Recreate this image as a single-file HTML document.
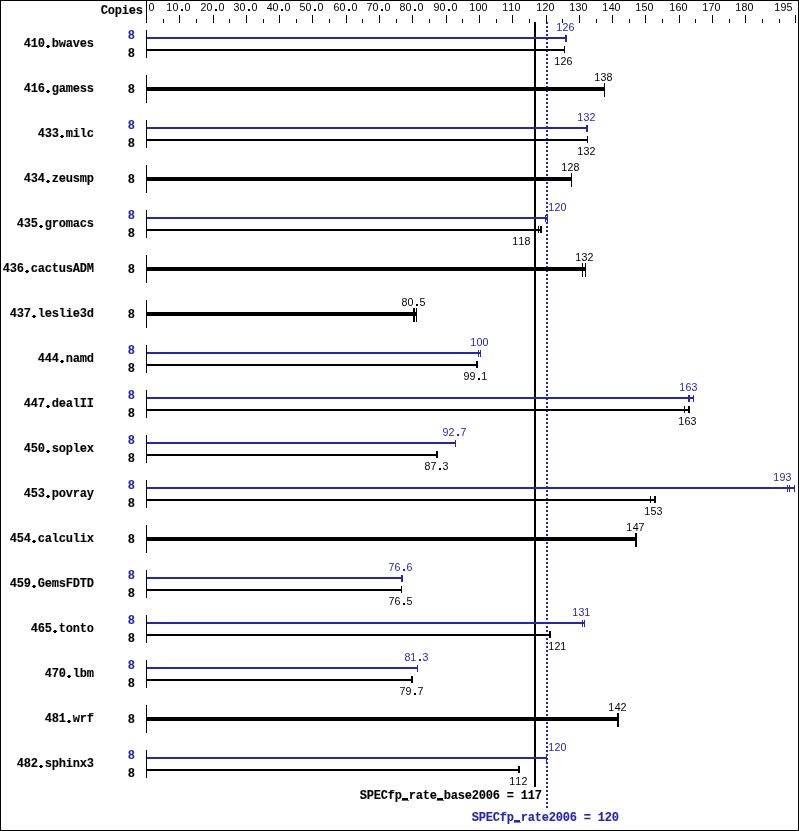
<!DOCTYPE html>
<html><head><meta charset="utf-8"><title>SPECfp_rate2006</title>
<style>
html,body{margin:0;padding:0;background:#fff;}
svg{display:block;}
text{white-space:pre;}
.b{font-family:'Liberation Mono', 'DejaVu Sans Mono', monospace;font-size:12.0px;font-weight:bold;stroke:currentColor;stroke-width:0.12px;}
.n{font-family:'Liberation Sans', Arial, sans-serif;font-size:11.6px;}
</style></head><body>
<svg width="799" height="831" viewBox="0 0 799 831" style="will-change:transform">
<rect x="0" y="0" width="799" height="831" fill="#fff"/>
<g shape-rendering="crispEdges">
<rect x="0" y="0" width="799" height="1" fill="#000"/>
<rect x="0" y="830" width="799" height="1" fill="#000"/>
<rect x="0" y="0" width="1" height="831" fill="#000"/>
<rect x="798" y="0" width="1" height="831" fill="#000"/>
<rect x="146" y="0" width="1" height="23" fill="#000"/>
<rect x="163" y="19" width="1" height="4" fill="#000"/>
<rect x="179" y="15" width="1" height="8" fill="#000"/>
<rect x="196" y="19" width="1" height="4" fill="#000"/>
<rect x="213" y="15" width="1" height="8" fill="#000"/>
<rect x="229" y="19" width="1" height="4" fill="#000"/>
<rect x="246" y="15" width="1" height="8" fill="#000"/>
<rect x="263" y="19" width="1" height="4" fill="#000"/>
<rect x="279" y="15" width="1" height="8" fill="#000"/>
<rect x="296" y="19" width="1" height="4" fill="#000"/>
<rect x="312" y="15" width="1" height="8" fill="#000"/>
<rect x="329" y="19" width="1" height="4" fill="#000"/>
<rect x="346" y="15" width="1" height="8" fill="#000"/>
<rect x="362" y="19" width="1" height="4" fill="#000"/>
<rect x="379" y="15" width="1" height="8" fill="#000"/>
<rect x="396" y="19" width="1" height="4" fill="#000"/>
<rect x="412" y="15" width="1" height="8" fill="#000"/>
<rect x="429" y="19" width="1" height="4" fill="#000"/>
<rect x="446" y="15" width="1" height="8" fill="#000"/>
<rect x="462" y="19" width="1" height="4" fill="#000"/>
<rect x="479" y="15" width="1" height="8" fill="#000"/>
<rect x="496" y="19" width="1" height="4" fill="#000"/>
<rect x="512" y="15" width="1" height="8" fill="#000"/>
<rect x="529" y="19" width="1" height="4" fill="#000"/>
<rect x="546" y="15" width="1" height="8" fill="#000"/>
<rect x="562" y="19" width="1" height="4" fill="#000"/>
<rect x="579" y="15" width="1" height="8" fill="#000"/>
<rect x="596" y="19" width="1" height="4" fill="#000"/>
<rect x="612" y="15" width="1" height="8" fill="#000"/>
<rect x="629" y="19" width="1" height="4" fill="#000"/>
<rect x="645" y="15" width="1" height="8" fill="#000"/>
<rect x="662" y="19" width="1" height="4" fill="#000"/>
<rect x="679" y="15" width="1" height="8" fill="#000"/>
<rect x="695" y="19" width="1" height="4" fill="#000"/>
<rect x="712" y="15" width="1" height="8" fill="#000"/>
<rect x="729" y="19" width="1" height="4" fill="#000"/>
<rect x="745" y="15" width="1" height="8" fill="#000"/>
<rect x="762" y="19" width="1" height="4" fill="#000"/>
<rect x="779" y="19" width="1" height="4" fill="#000"/>
<rect x="795" y="15" width="1" height="8" fill="#000"/>
<rect x="534" y="22" width="2" height="765" fill="#000"/>
<rect x="546" y="22" width="2" height="2" fill="#2626b0"/>
<rect x="546" y="26" width="2" height="2" fill="#2626b0"/>
<rect x="546" y="30" width="2" height="2" fill="#2626b0"/>
<rect x="546" y="34" width="2" height="2" fill="#2626b0"/>
<rect x="546" y="38" width="2" height="2" fill="#2626b0"/>
<rect x="546" y="42" width="2" height="2" fill="#2626b0"/>
<rect x="546" y="46" width="2" height="2" fill="#2626b0"/>
<rect x="546" y="50" width="2" height="2" fill="#2626b0"/>
<rect x="546" y="54" width="2" height="2" fill="#2626b0"/>
<rect x="546" y="58" width="2" height="2" fill="#2626b0"/>
<rect x="546" y="62" width="2" height="2" fill="#2626b0"/>
<rect x="546" y="66" width="2" height="2" fill="#2626b0"/>
<rect x="546" y="70" width="2" height="2" fill="#2626b0"/>
<rect x="546" y="74" width="2" height="2" fill="#2626b0"/>
<rect x="546" y="78" width="2" height="2" fill="#2626b0"/>
<rect x="546" y="82" width="2" height="2" fill="#2626b0"/>
<rect x="546" y="86" width="2" height="2" fill="#2626b0"/>
<rect x="546" y="90" width="2" height="2" fill="#2626b0"/>
<rect x="546" y="94" width="2" height="2" fill="#2626b0"/>
<rect x="546" y="98" width="2" height="2" fill="#2626b0"/>
<rect x="546" y="102" width="2" height="2" fill="#2626b0"/>
<rect x="546" y="106" width="2" height="2" fill="#2626b0"/>
<rect x="546" y="110" width="2" height="2" fill="#2626b0"/>
<rect x="546" y="114" width="2" height="2" fill="#2626b0"/>
<rect x="546" y="118" width="2" height="2" fill="#2626b0"/>
<rect x="546" y="122" width="2" height="2" fill="#2626b0"/>
<rect x="546" y="126" width="2" height="2" fill="#2626b0"/>
<rect x="546" y="130" width="2" height="2" fill="#2626b0"/>
<rect x="546" y="134" width="2" height="2" fill="#2626b0"/>
<rect x="546" y="138" width="2" height="2" fill="#2626b0"/>
<rect x="546" y="142" width="2" height="2" fill="#2626b0"/>
<rect x="546" y="146" width="2" height="2" fill="#2626b0"/>
<rect x="546" y="150" width="2" height="2" fill="#2626b0"/>
<rect x="546" y="154" width="2" height="2" fill="#2626b0"/>
<rect x="546" y="158" width="2" height="2" fill="#2626b0"/>
<rect x="546" y="162" width="2" height="2" fill="#2626b0"/>
<rect x="546" y="166" width="2" height="2" fill="#2626b0"/>
<rect x="546" y="170" width="2" height="2" fill="#2626b0"/>
<rect x="546" y="174" width="2" height="2" fill="#2626b0"/>
<rect x="546" y="178" width="2" height="2" fill="#2626b0"/>
<rect x="546" y="182" width="2" height="2" fill="#2626b0"/>
<rect x="546" y="186" width="2" height="2" fill="#2626b0"/>
<rect x="546" y="190" width="2" height="2" fill="#2626b0"/>
<rect x="546" y="194" width="2" height="2" fill="#2626b0"/>
<rect x="546" y="198" width="2" height="2" fill="#2626b0"/>
<rect x="546" y="202" width="2" height="2" fill="#2626b0"/>
<rect x="546" y="206" width="2" height="2" fill="#2626b0"/>
<rect x="546" y="210" width="2" height="2" fill="#2626b0"/>
<rect x="546" y="214" width="2" height="2" fill="#2626b0"/>
<rect x="546" y="218" width="2" height="2" fill="#2626b0"/>
<rect x="546" y="222" width="2" height="2" fill="#2626b0"/>
<rect x="546" y="226" width="2" height="2" fill="#2626b0"/>
<rect x="546" y="230" width="2" height="2" fill="#2626b0"/>
<rect x="546" y="234" width="2" height="2" fill="#2626b0"/>
<rect x="546" y="238" width="2" height="2" fill="#2626b0"/>
<rect x="546" y="242" width="2" height="2" fill="#2626b0"/>
<rect x="546" y="246" width="2" height="2" fill="#2626b0"/>
<rect x="546" y="250" width="2" height="2" fill="#2626b0"/>
<rect x="546" y="254" width="2" height="2" fill="#2626b0"/>
<rect x="546" y="258" width="2" height="2" fill="#2626b0"/>
<rect x="546" y="262" width="2" height="2" fill="#2626b0"/>
<rect x="546" y="266" width="2" height="2" fill="#2626b0"/>
<rect x="546" y="270" width="2" height="2" fill="#2626b0"/>
<rect x="546" y="274" width="2" height="2" fill="#2626b0"/>
<rect x="546" y="278" width="2" height="2" fill="#2626b0"/>
<rect x="546" y="282" width="2" height="2" fill="#2626b0"/>
<rect x="546" y="286" width="2" height="2" fill="#2626b0"/>
<rect x="546" y="290" width="2" height="2" fill="#2626b0"/>
<rect x="546" y="294" width="2" height="2" fill="#2626b0"/>
<rect x="546" y="298" width="2" height="2" fill="#2626b0"/>
<rect x="546" y="302" width="2" height="2" fill="#2626b0"/>
<rect x="546" y="306" width="2" height="2" fill="#2626b0"/>
<rect x="546" y="310" width="2" height="2" fill="#2626b0"/>
<rect x="546" y="314" width="2" height="2" fill="#2626b0"/>
<rect x="546" y="318" width="2" height="2" fill="#2626b0"/>
<rect x="546" y="322" width="2" height="2" fill="#2626b0"/>
<rect x="546" y="326" width="2" height="2" fill="#2626b0"/>
<rect x="546" y="330" width="2" height="2" fill="#2626b0"/>
<rect x="546" y="334" width="2" height="2" fill="#2626b0"/>
<rect x="546" y="338" width="2" height="2" fill="#2626b0"/>
<rect x="546" y="342" width="2" height="2" fill="#2626b0"/>
<rect x="546" y="346" width="2" height="2" fill="#2626b0"/>
<rect x="546" y="350" width="2" height="2" fill="#2626b0"/>
<rect x="546" y="354" width="2" height="2" fill="#2626b0"/>
<rect x="546" y="358" width="2" height="2" fill="#2626b0"/>
<rect x="546" y="362" width="2" height="2" fill="#2626b0"/>
<rect x="546" y="366" width="2" height="2" fill="#2626b0"/>
<rect x="546" y="370" width="2" height="2" fill="#2626b0"/>
<rect x="546" y="374" width="2" height="2" fill="#2626b0"/>
<rect x="546" y="378" width="2" height="2" fill="#2626b0"/>
<rect x="546" y="382" width="2" height="2" fill="#2626b0"/>
<rect x="546" y="386" width="2" height="2" fill="#2626b0"/>
<rect x="546" y="390" width="2" height="2" fill="#2626b0"/>
<rect x="546" y="394" width="2" height="2" fill="#2626b0"/>
<rect x="546" y="398" width="2" height="2" fill="#2626b0"/>
<rect x="546" y="402" width="2" height="2" fill="#2626b0"/>
<rect x="546" y="406" width="2" height="2" fill="#2626b0"/>
<rect x="546" y="410" width="2" height="2" fill="#2626b0"/>
<rect x="546" y="414" width="2" height="2" fill="#2626b0"/>
<rect x="546" y="418" width="2" height="2" fill="#2626b0"/>
<rect x="546" y="422" width="2" height="2" fill="#2626b0"/>
<rect x="546" y="426" width="2" height="2" fill="#2626b0"/>
<rect x="546" y="430" width="2" height="2" fill="#2626b0"/>
<rect x="546" y="434" width="2" height="2" fill="#2626b0"/>
<rect x="546" y="438" width="2" height="2" fill="#2626b0"/>
<rect x="546" y="442" width="2" height="2" fill="#2626b0"/>
<rect x="546" y="446" width="2" height="2" fill="#2626b0"/>
<rect x="546" y="450" width="2" height="2" fill="#2626b0"/>
<rect x="546" y="454" width="2" height="2" fill="#2626b0"/>
<rect x="546" y="458" width="2" height="2" fill="#2626b0"/>
<rect x="546" y="462" width="2" height="2" fill="#2626b0"/>
<rect x="546" y="466" width="2" height="2" fill="#2626b0"/>
<rect x="546" y="470" width="2" height="2" fill="#2626b0"/>
<rect x="546" y="474" width="2" height="2" fill="#2626b0"/>
<rect x="546" y="478" width="2" height="2" fill="#2626b0"/>
<rect x="546" y="482" width="2" height="2" fill="#2626b0"/>
<rect x="546" y="486" width="2" height="2" fill="#2626b0"/>
<rect x="546" y="490" width="2" height="2" fill="#2626b0"/>
<rect x="546" y="494" width="2" height="2" fill="#2626b0"/>
<rect x="546" y="498" width="2" height="2" fill="#2626b0"/>
<rect x="546" y="502" width="2" height="2" fill="#2626b0"/>
<rect x="546" y="506" width="2" height="2" fill="#2626b0"/>
<rect x="546" y="510" width="2" height="2" fill="#2626b0"/>
<rect x="546" y="514" width="2" height="2" fill="#2626b0"/>
<rect x="546" y="518" width="2" height="2" fill="#2626b0"/>
<rect x="546" y="522" width="2" height="2" fill="#2626b0"/>
<rect x="546" y="526" width="2" height="2" fill="#2626b0"/>
<rect x="546" y="530" width="2" height="2" fill="#2626b0"/>
<rect x="546" y="534" width="2" height="2" fill="#2626b0"/>
<rect x="546" y="538" width="2" height="2" fill="#2626b0"/>
<rect x="546" y="542" width="2" height="2" fill="#2626b0"/>
<rect x="546" y="546" width="2" height="2" fill="#2626b0"/>
<rect x="546" y="550" width="2" height="2" fill="#2626b0"/>
<rect x="546" y="554" width="2" height="2" fill="#2626b0"/>
<rect x="546" y="558" width="2" height="2" fill="#2626b0"/>
<rect x="546" y="562" width="2" height="2" fill="#2626b0"/>
<rect x="546" y="566" width="2" height="2" fill="#2626b0"/>
<rect x="546" y="570" width="2" height="2" fill="#2626b0"/>
<rect x="546" y="574" width="2" height="2" fill="#2626b0"/>
<rect x="546" y="578" width="2" height="2" fill="#2626b0"/>
<rect x="546" y="582" width="2" height="2" fill="#2626b0"/>
<rect x="546" y="586" width="2" height="2" fill="#2626b0"/>
<rect x="546" y="590" width="2" height="2" fill="#2626b0"/>
<rect x="546" y="594" width="2" height="2" fill="#2626b0"/>
<rect x="546" y="598" width="2" height="2" fill="#2626b0"/>
<rect x="546" y="602" width="2" height="2" fill="#2626b0"/>
<rect x="546" y="606" width="2" height="2" fill="#2626b0"/>
<rect x="546" y="610" width="2" height="2" fill="#2626b0"/>
<rect x="546" y="614" width="2" height="2" fill="#2626b0"/>
<rect x="546" y="618" width="2" height="2" fill="#2626b0"/>
<rect x="546" y="622" width="2" height="2" fill="#2626b0"/>
<rect x="546" y="626" width="2" height="2" fill="#2626b0"/>
<rect x="546" y="630" width="2" height="2" fill="#2626b0"/>
<rect x="546" y="634" width="2" height="2" fill="#2626b0"/>
<rect x="546" y="638" width="2" height="2" fill="#2626b0"/>
<rect x="546" y="642" width="2" height="2" fill="#2626b0"/>
<rect x="546" y="646" width="2" height="2" fill="#2626b0"/>
<rect x="546" y="650" width="2" height="2" fill="#2626b0"/>
<rect x="546" y="654" width="2" height="2" fill="#2626b0"/>
<rect x="546" y="658" width="2" height="2" fill="#2626b0"/>
<rect x="546" y="662" width="2" height="2" fill="#2626b0"/>
<rect x="546" y="666" width="2" height="2" fill="#2626b0"/>
<rect x="546" y="670" width="2" height="2" fill="#2626b0"/>
<rect x="546" y="674" width="2" height="2" fill="#2626b0"/>
<rect x="546" y="678" width="2" height="2" fill="#2626b0"/>
<rect x="546" y="682" width="2" height="2" fill="#2626b0"/>
<rect x="546" y="686" width="2" height="2" fill="#2626b0"/>
<rect x="546" y="690" width="2" height="2" fill="#2626b0"/>
<rect x="546" y="694" width="2" height="2" fill="#2626b0"/>
<rect x="546" y="698" width="2" height="2" fill="#2626b0"/>
<rect x="546" y="702" width="2" height="2" fill="#2626b0"/>
<rect x="546" y="706" width="2" height="2" fill="#2626b0"/>
<rect x="546" y="710" width="2" height="2" fill="#2626b0"/>
<rect x="546" y="714" width="2" height="2" fill="#2626b0"/>
<rect x="546" y="718" width="2" height="2" fill="#2626b0"/>
<rect x="546" y="722" width="2" height="2" fill="#2626b0"/>
<rect x="546" y="726" width="2" height="2" fill="#2626b0"/>
<rect x="546" y="730" width="2" height="2" fill="#2626b0"/>
<rect x="546" y="734" width="2" height="2" fill="#2626b0"/>
<rect x="546" y="738" width="2" height="2" fill="#2626b0"/>
<rect x="546" y="742" width="2" height="2" fill="#2626b0"/>
<rect x="546" y="746" width="2" height="2" fill="#2626b0"/>
<rect x="546" y="750" width="2" height="2" fill="#2626b0"/>
<rect x="546" y="754" width="2" height="2" fill="#2626b0"/>
<rect x="546" y="758" width="2" height="2" fill="#2626b0"/>
<rect x="546" y="762" width="2" height="2" fill="#2626b0"/>
<rect x="546" y="766" width="2" height="2" fill="#2626b0"/>
<rect x="546" y="770" width="2" height="2" fill="#2626b0"/>
<rect x="546" y="774" width="2" height="2" fill="#2626b0"/>
<rect x="546" y="778" width="2" height="2" fill="#2626b0"/>
<rect x="546" y="782" width="2" height="2" fill="#2626b0"/>
<rect x="546" y="786" width="2" height="2" fill="#2626b0"/>
<rect x="546" y="790" width="2" height="2" fill="#2626b0"/>
<rect x="546" y="794" width="2" height="2" fill="#2626b0"/>
<rect x="546" y="798" width="2" height="2" fill="#2626b0"/>
<rect x="546" y="802" width="2" height="2" fill="#2626b0"/>
<rect x="546" y="806" width="2" height="2" fill="#2626b0"/>
<rect x="146" y="30" width="1" height="28" fill="#000"/>
<rect x="147" y="37" width="420" height="2" fill="#2626b0"/>
<rect x="565" y="35" width="2" height="7" fill="#2626b0"/>
<rect x="147" y="49" width="418" height="2" fill="#000"/>
<rect x="564" y="46" width="1" height="7" fill="#000"/>
<rect x="146" y="75" width="1" height="28" fill="#000"/>
<rect x="147" y="87" width="458" height="4" fill="#000"/>
<rect x="604" y="83" width="1" height="14" fill="#000"/>
<rect x="146" y="120" width="1" height="28" fill="#000"/>
<rect x="147" y="127" width="441" height="2" fill="#2626b0"/>
<rect x="586" y="125" width="2" height="7" fill="#2626b0"/>
<rect x="147" y="139" width="441" height="2" fill="#000"/>
<rect x="587" y="136" width="1" height="7" fill="#000"/>
<rect x="146" y="165" width="1" height="28" fill="#000"/>
<rect x="147" y="177" width="425" height="4" fill="#000"/>
<rect x="571" y="173" width="1" height="14" fill="#000"/>
<rect x="146" y="210" width="1" height="28" fill="#000"/>
<rect x="147" y="217" width="401" height="2" fill="#2626b0"/>
<rect x="545" y="215" width="1" height="7" fill="#2626b0"/>
<rect x="546" y="215" width="2" height="7" fill="#2626b0"/>
<rect x="147" y="229" width="395" height="2" fill="#000"/>
<rect x="538" y="226" width="1" height="7" fill="#000"/>
<rect x="540" y="226" width="2" height="7" fill="#000"/>
<rect x="146" y="255" width="1" height="28" fill="#000"/>
<rect x="147" y="267" width="439" height="4" fill="#000"/>
<rect x="582" y="263" width="1" height="14" fill="#000"/>
<rect x="585" y="263" width="1" height="14" fill="#000"/>
<rect x="146" y="300" width="1" height="28" fill="#000"/>
<rect x="147" y="312" width="270" height="4" fill="#000"/>
<rect x="413" y="308" width="2" height="14" fill="#000"/>
<rect x="416" y="308" width="1" height="14" fill="#000"/>
<rect x="146" y="345" width="1" height="28" fill="#000"/>
<rect x="147" y="352" width="334" height="2" fill="#2626b0"/>
<rect x="478" y="350" width="1" height="7" fill="#2626b0"/>
<rect x="480" y="350" width="1" height="7" fill="#2626b0"/>
<rect x="147" y="364" width="331" height="2" fill="#000"/>
<rect x="476" y="361" width="2" height="7" fill="#000"/>
<rect x="146" y="390" width="1" height="28" fill="#000"/>
<rect x="147" y="397" width="547" height="2" fill="#2626b0"/>
<rect x="688" y="395" width="2" height="7" fill="#2626b0"/>
<rect x="693" y="395" width="1" height="7" fill="#2626b0"/>
<rect x="147" y="409" width="543" height="2" fill="#000"/>
<rect x="684" y="406" width="1" height="7" fill="#000"/>
<rect x="688" y="406" width="2" height="7" fill="#000"/>
<rect x="146" y="435" width="1" height="28" fill="#000"/>
<rect x="147" y="442" width="309" height="2" fill="#2626b0"/>
<rect x="455" y="440" width="1" height="7" fill="#2626b0"/>
<rect x="147" y="454" width="291" height="2" fill="#000"/>
<rect x="436" y="451" width="2" height="7" fill="#000"/>
<rect x="146" y="480" width="1" height="28" fill="#000"/>
<rect x="147" y="487" width="648" height="2" fill="#2626b0"/>
<rect x="787" y="485" width="1" height="7" fill="#2626b0"/>
<rect x="789" y="485" width="1" height="7" fill="#2626b0"/>
<rect x="794" y="485" width="1" height="7" fill="#2626b0"/>
<rect x="147" y="499" width="509" height="2" fill="#000"/>
<rect x="650" y="496" width="1" height="7" fill="#000"/>
<rect x="654" y="496" width="2" height="7" fill="#000"/>
<rect x="146" y="525" width="1" height="28" fill="#000"/>
<rect x="147" y="537" width="490" height="4" fill="#000"/>
<rect x="635" y="533" width="2" height="14" fill="#000"/>
<rect x="146" y="570" width="1" height="28" fill="#000"/>
<rect x="147" y="577" width="256" height="2" fill="#2626b0"/>
<rect x="401" y="575" width="2" height="7" fill="#2626b0"/>
<rect x="147" y="589" width="255" height="2" fill="#000"/>
<rect x="401" y="586" width="1" height="7" fill="#000"/>
<rect x="146" y="615" width="1" height="28" fill="#000"/>
<rect x="147" y="622" width="438" height="2" fill="#2626b0"/>
<rect x="582" y="620" width="1" height="7" fill="#2626b0"/>
<rect x="584" y="620" width="1" height="7" fill="#2626b0"/>
<rect x="147" y="634" width="404" height="2" fill="#000"/>
<rect x="549" y="631" width="2" height="7" fill="#000"/>
<rect x="146" y="660" width="1" height="28" fill="#000"/>
<rect x="147" y="667" width="271" height="2" fill="#2626b0"/>
<rect x="417" y="665" width="1" height="7" fill="#2626b0"/>
<rect x="147" y="679" width="266" height="2" fill="#000"/>
<rect x="411" y="676" width="2" height="7" fill="#000"/>
<rect x="146" y="705" width="1" height="28" fill="#000"/>
<rect x="147" y="717" width="472" height="4" fill="#000"/>
<rect x="617" y="713" width="2" height="14" fill="#000"/>
<rect x="146" y="750" width="1" height="28" fill="#000"/>
<rect x="147" y="757" width="400" height="2" fill="#2626b0"/>
<rect x="546" y="755" width="1" height="7" fill="#2626b0"/>
<rect x="147" y="769" width="373" height="2" fill="#000"/>
<rect x="518" y="766" width="2" height="7" fill="#000"/>
<rect x="546" y="22" width="1" height="1" fill="#000"/>
<rect x="546" y="216" width="1" height="1" fill="#fff"/>
<rect x="546" y="220" width="1" height="2" fill="#fff"/>
</g>
<text class="b" x="100.7 107.7 114.7 121.7 128.7 135.7" y="14">Copies</text>
<text class="n" transform="scale(0.92 1)" x="161.5" y="11">0</text>
<text class="n" transform="scale(0.92 1)" x="180.64 187.59 196.09 200.63" y="11">10.0</text>
<text class="n" transform="scale(0.92 1)" x="217.89 224.55 233.04 237.59" y="11">20.0</text>
<text class="n" transform="scale(0.92 1)" x="253.91 260.42 268.91 273.46" y="11">30.0</text>
<text class="n" transform="scale(0.92 1)" x="289.95 296.29 304.78 309.33" y="11">40.0</text>
<text class="n" transform="scale(0.92 1)" x="325.62 332.16 340.65 345.2" y="11">50.0</text>
<text class="n" transform="scale(0.92 1)" x="362.45 369.11 377.61 382.16" y="11">60.0</text>
<text class="n" transform="scale(0.92 1)" x="398.32 404.98 413.48 418.03" y="11">70.0</text>
<text class="n" transform="scale(0.92 1)" x="434.28 440.85 449.35 453.89" y="11">80.0</text>
<text class="n" transform="scale(0.92 1)" x="471.2 477.81 486.3 490.85" y="11">90.0</text>
<text class="n" transform="scale(0.92 1)" x="509.99 516.94 523.46" y="11">100</text>
<text class="n" transform="scale(0.92 1)" x="545.86 552.38 559.33" y="11">110</text>
<text class="n" transform="scale(0.92 1)" x="582.81 589.63 596.29" y="11">120</text>
<text class="n" transform="scale(0.92 1)" x="618.68 625.65 632.16" y="11">130</text>
<text class="n" transform="scale(0.92 1)" x="654.55 661.69 668.03" y="11">140</text>
<text class="n" transform="scale(0.92 1)" x="690.42 697.36 703.89" y="11">150</text>
<text class="n" transform="scale(0.92 1)" x="727.38 734.19 740.85" y="11">160</text>
<text class="n" transform="scale(0.92 1)" x="763.25 770.06 776.72" y="11">170</text>
<text class="n" transform="scale(0.92 1)" x="799.12 806.02 812.59" y="11">180</text>
<text class="n" transform="scale(0.92 1)" x="841.51 848.37 854.97" y="11">195</text>
<text class="b" x="23.7 30.7 37.7 44.7 51.7 58.7 65.7 72.7 79.7 86.7" y="47">410.bwaves</text>
<text class="n" transform="scale(0.92 1)" x="604.55 611.37 617.89" y="31" fill="#2626b0" color="#2626b0">126</text>
<text class="b" x="127.7" y="39" fill="#2626b0" color="#2626b0">8</text>
<text class="n" transform="scale(0.92 1)" x="602.38 609.2 615.72" y="65">126</text>
<text class="b" x="127.7" y="57">8</text>
<text class="b" x="23.7 30.7 37.7 44.7 51.7 58.7 65.7 72.7 79.7 86.7" y="92">416.gamess</text>
<text class="n" transform="scale(0.92 1)" x="645.86 652.82 659.28" y="81">138</text>
<text class="b" x="127.7" y="93">8</text>
<text class="b" x="37.7 44.7 51.7 58.7 65.7 72.7 79.7 86.7" y="137">433.milc</text>
<text class="n" transform="scale(0.92 1)" x="627.38 634.34 640.72" y="121" fill="#2626b0" color="#2626b0">132</text>
<text class="b" x="127.7" y="129" fill="#2626b0" color="#2626b0">8</text>
<text class="n" transform="scale(0.92 1)" x="627.38 634.34 640.72" y="155">132</text>
<text class="b" x="127.7" y="147">8</text>
<text class="b" x="23.7 30.7 37.7 44.7 51.7 58.7 65.7 72.7 79.7 86.7" y="182">434.zeusmp</text>
<text class="n" transform="scale(0.92 1)" x="609.99 616.81 623.41" y="171">128</text>
<text class="b" x="127.7" y="183">8</text>
<text class="b" x="16.7 23.7 30.7 37.7 44.7 51.7 58.7 65.7 72.7 79.7 86.7" y="227">435.gromacs</text>
<text class="n" transform="scale(0.92 1)" x="595.86 602.68 609.33" y="211" fill="#2626b0" color="#2626b0">120</text>
<text class="b" x="127.7" y="219" fill="#2626b0" color="#2626b0">8</text>
<text class="n" transform="scale(0.92 1)" x="556.73 563.25 570.15" y="245">118</text>
<text class="b" x="127.7" y="237">8</text>
<text class="b" x="2.7 9.7 16.7 23.7 30.7 37.7 44.7 51.7 58.7 65.7 72.7 79.7 86.7" y="272">436.cactusADM</text>
<text class="n" transform="scale(0.92 1)" x="625.2 632.17 638.55" y="261">132</text>
<text class="b" x="127.7" y="273">8</text>
<text class="b" x="9.7 16.7 23.7 30.7 37.7 44.7 51.7 58.7 65.7 72.7 79.7 86.7" y="317">437.leslie3d</text>
<text class="n" transform="scale(0.92 1)" x="436.45 443.03 451.52 456.06" y="306">80.5</text>
<text class="b" x="127.7" y="318">8</text>
<text class="b" x="37.7 44.7 51.7 58.7 65.7 72.7 79.7 86.7" y="362">444.namd</text>
<text class="n" transform="scale(0.92 1)" x="511.07 518.03 524.55" y="346" fill="#2626b0" color="#2626b0">100</text>
<text class="b" x="127.7" y="354" fill="#2626b0" color="#2626b0">8</text>
<text class="n" transform="scale(0.92 1)" x="503.8 510.33 518.91 523.03" y="380">99.1</text>
<text class="b" x="127.7" y="372">8</text>
<text class="b" x="23.7 30.7 37.7 44.7 51.7 58.7 65.7 72.7 79.7 86.7" y="407">447.dealII</text>
<text class="n" transform="scale(0.92 1)" x="738.25 745.06 751.73" y="391" fill="#2626b0" color="#2626b0">163</text>
<text class="b" x="127.7" y="399" fill="#2626b0" color="#2626b0">8</text>
<text class="n" transform="scale(0.92 1)" x="737.16 743.98 750.65" y="425">163</text>
<text class="b" x="127.7" y="417">8</text>
<text class="b" x="23.7 30.7 37.7 44.7 51.7 58.7 65.7 72.7 79.7 86.7" y="452">450.soplex</text>
<text class="n" transform="scale(0.92 1)" x="480.98 487.46 496.09 500.49" y="436" fill="#2626b0" color="#2626b0">92.7</text>
<text class="b" x="127.7" y="444" fill="#2626b0" color="#2626b0">8</text>
<text class="n" transform="scale(0.92 1)" x="461.45 467.88 476.52 481.08" y="470">87.3</text>
<text class="b" x="127.7" y="462">8</text>
<text class="b" x="23.7 30.7 37.7 44.7 51.7 58.7 65.7 72.7 79.7 86.7" y="497">453.povray</text>
<text class="n" transform="scale(0.92 1)" x="840.42 847.28 853.91" y="481" fill="#2626b0" color="#2626b0">193</text>
<text class="b" x="127.7" y="489" fill="#2626b0" color="#2626b0">8</text>
<text class="n" transform="scale(0.92 1)" x="700.2 707.14 713.69" y="515">153</text>
<text class="b" x="127.7" y="507">8</text>
<text class="b" x="9.7 16.7 23.7 30.7 37.7 44.7 51.7 58.7 65.7 72.7 79.7 86.7" y="542">454.calculix</text>
<text class="n" transform="scale(0.92 1)" x="680.64 687.78 693.97" y="531">147</text>
<text class="b" x="127.7" y="543">8</text>
<text class="b" x="9.7 16.7 23.7 30.7 37.7 44.7 51.7 58.7 65.7 72.7 79.7 86.7" y="587">459.GemsFDTD</text>
<text class="n" transform="scale(0.92 1)" x="422.23 428.76 437.39 441.8" y="571" fill="#2626b0" color="#2626b0">76.6</text>
<text class="b" x="127.7" y="579" fill="#2626b0" color="#2626b0">8</text>
<text class="n" transform="scale(0.92 1)" x="422.23 428.76 437.39 441.93" y="605">76.5</text>
<text class="b" x="127.7" y="597">8</text>
<text class="b" x="30.7 37.7 44.7 51.7 58.7 65.7 72.7 79.7 86.7" y="632">465.tonto</text>
<text class="n" transform="scale(0.92 1)" x="621.94 628.91 634.99" y="616" fill="#2626b0" color="#2626b0">131</text>
<text class="b" x="127.7" y="624" fill="#2626b0" color="#2626b0">8</text>
<text class="n" transform="scale(0.92 1)" x="595.86 602.68 608.9" y="650">121</text>
<text class="b" x="127.7" y="642">8</text>
<text class="b" x="44.7 51.7 58.7 65.7 72.7 79.7 86.7" y="677">470.lbm</text>
<text class="n" transform="scale(0.92 1)" x="439.71 445.86 454.78 459.34" y="661" fill="#2626b0" color="#2626b0">81.3</text>
<text class="b" x="127.7" y="669" fill="#2626b0" color="#2626b0">8</text>
<text class="n" transform="scale(0.92 1)" x="434.19 440.76 449.35 453.75" y="695">79.7</text>
<text class="b" x="127.7" y="687">8</text>
<text class="b" x="44.7 51.7 58.7 65.7 72.7 79.7 86.7" y="722">481.wrf</text>
<text class="n" transform="scale(0.92 1)" x="661.07 668.21 674.42" y="711">142</text>
<text class="b" x="127.7" y="723">8</text>
<text class="b" x="16.7 23.7 30.7 37.7 44.7 51.7 58.7 65.7 72.7 79.7 86.7" y="767">482.sphinx3</text>
<text class="n" transform="scale(0.92 1)" x="595.86 602.68 609.33" y="751" fill="#2626b0" color="#2626b0">120</text>
<text class="b" x="127.7" y="759" fill="#2626b0" color="#2626b0">8</text>
<text class="n" transform="scale(0.92 1)" x="553.46 559.99 566.81" y="785">112</text>
<text class="b" x="127.7" y="777">8</text>
<text class="b" x="359.7 366.7 373.7 380.7 387.7 394.7 401.7 408.7 415.7 422.7 429.7 436.7 443.7 450.7 457.7 464.7 471.7 478.7 485.7 492.7 499.7 506.7 513.7 520.7 527.7 534.7" y="799">SPECfp_rate_base2006 = 117</text>
<text class="b" x="471.7 478.7 485.7 492.7 499.7 506.7 513.7 520.7 527.7 534.7 541.7 548.7 555.7 562.7 569.7 576.7 583.7 590.7 597.7 604.7 611.7" y="821" fill="#2626b0" color="#2626b0">SPECfp_rate2006 = 120</text>
<g shape-rendering="crispEdges">
<rect x="181" y="9" width="2" height="2" fill="#000"/>
<rect x="215" y="9" width="2" height="2" fill="#000"/>
<rect x="248" y="9" width="2" height="2" fill="#000"/>
<rect x="281" y="9" width="2" height="2" fill="#000"/>
<rect x="314" y="9" width="2" height="2" fill="#000"/>
<rect x="348" y="9" width="2" height="2" fill="#000"/>
<rect x="381" y="9" width="2" height="2" fill="#000"/>
<rect x="414" y="9" width="2" height="2" fill="#000"/>
<rect x="448" y="9" width="2" height="2" fill="#000"/>
<rect x="46" y="46" width="4" height="1" fill="#000"/>
<rect x="47" y="45" width="2" height="3" fill="#000"/>
<rect x="46" y="91" width="4" height="1" fill="#000"/>
<rect x="47" y="90" width="2" height="3" fill="#000"/>
<rect x="60" y="136" width="4" height="1" fill="#000"/>
<rect x="61" y="135" width="2" height="3" fill="#000"/>
<rect x="46" y="181" width="4" height="1" fill="#000"/>
<rect x="47" y="180" width="2" height="3" fill="#000"/>
<rect x="39" y="226" width="4" height="1" fill="#000"/>
<rect x="40" y="225" width="2" height="3" fill="#000"/>
<rect x="25" y="271" width="4" height="1" fill="#000"/>
<rect x="26" y="270" width="2" height="3" fill="#000"/>
<rect x="32" y="316" width="4" height="1" fill="#000"/>
<rect x="33" y="315" width="2" height="3" fill="#000"/>
<rect x="416" y="304" width="2" height="2" fill="#000"/>
<rect x="60" y="361" width="4" height="1" fill="#000"/>
<rect x="61" y="360" width="2" height="3" fill="#000"/>
<rect x="478" y="378" width="2" height="2" fill="#000"/>
<rect x="46" y="406" width="4" height="1" fill="#000"/>
<rect x="47" y="405" width="2" height="3" fill="#000"/>
<rect x="46" y="451" width="4" height="1" fill="#000"/>
<rect x="47" y="450" width="2" height="3" fill="#000"/>
<rect x="457" y="434" width="2" height="2" fill="#2626b0"/>
<rect x="439" y="468" width="2" height="2" fill="#000"/>
<rect x="46" y="496" width="4" height="1" fill="#000"/>
<rect x="47" y="495" width="2" height="3" fill="#000"/>
<rect x="32" y="541" width="4" height="1" fill="#000"/>
<rect x="33" y="540" width="2" height="3" fill="#000"/>
<rect x="32" y="586" width="4" height="1" fill="#000"/>
<rect x="33" y="585" width="2" height="3" fill="#000"/>
<rect x="403" y="569" width="2" height="2" fill="#2626b0"/>
<rect x="403" y="603" width="2" height="2" fill="#000"/>
<rect x="53" y="631" width="4" height="1" fill="#000"/>
<rect x="54" y="630" width="2" height="3" fill="#000"/>
<rect x="67" y="676" width="4" height="1" fill="#000"/>
<rect x="68" y="675" width="2" height="3" fill="#000"/>
<rect x="419" y="659" width="2" height="2" fill="#2626b0"/>
<rect x="414" y="693" width="2" height="2" fill="#000"/>
<rect x="67" y="721" width="4" height="1" fill="#000"/>
<rect x="68" y="720" width="2" height="3" fill="#000"/>
<rect x="39" y="766" width="4" height="1" fill="#000"/>
<rect x="40" y="765" width="2" height="3" fill="#000"/>
<rect x="402" y="798" width="6" height="2" fill="#000"/>
<rect x="437" y="798" width="6" height="2" fill="#000"/>
<rect x="514" y="820" width="6" height="2" fill="#2626b0"/>
</g>
</svg>
</body></html>
